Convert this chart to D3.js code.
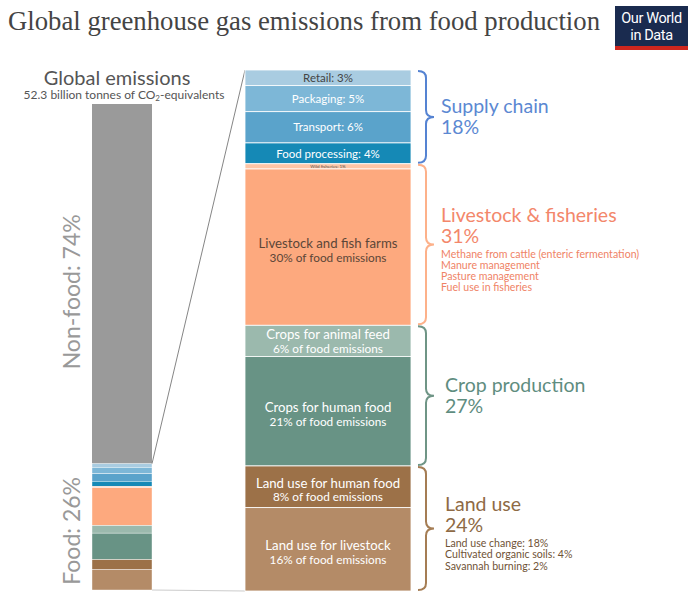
<!DOCTYPE html>
<html><head><meta charset="utf-8">
<script src="https://cdn.jsdelivr.net/npm/d3@7"></script>
<style>html,body{margin:0;padding:0;background:#fff;}svg{display:block;font-family:Lato,"Noto Sans",sans-serif;}</style>
</head><body>
<svg id="c" width="692" height="601"></svg>
<script>
// ---- data ----
const globalParts = ["Non-food", "Food"];
const globalShares = [74, 26];
const segments = ["Retail", "Packaging", "Transport", "Food processing", "Wild fisheries",
  "Livestock and fish farms", "Crops for animal feed", "Crops for human food",
  "Land use for human food", "Land use for livestock"];
const segmentShares = [3, 5, 6, 4, 1, 30, 6, 21, 8, 16];
const segmentColors = ["#a9cce1", "#7db7d7", "#5aa3cb", "#1589b6", "#fdc5a6",
  "#fda97e", "#9bb9ad", "#689385", "#9c7148", "#b48b67"];
const segmentTextColors = ["#444", "#fff", "#fff", "#fff", "#555", "#5b4638", "#fff", "#fff", "#fff", "#fff"];
const groups = ["Supply chain", "Livestock & fisheries", "Crop production", "Land use"];
const groupShares = [18, 31, 27, 24];
const groupSegments = [[0, 3], [4, 5], [6, 7], [8, 9]];
const groupColors = ["#5b88d2", "#f3876b", "#5f8d7f", "#8e6a45"];
const braceColors = ["#5583d2", "#fdb18a", "#6f9586", "#a57d54"];
const groupDetails = [[],
  ["Methane from cattle (enteric fermentation)", "Manure management", "Pasture management", "Fuel use in fisheries"],
  [],
  ["Land use change: 18%", "Cultivated organic soils: 4%", "Savannah burning: 2%"]];
const detailColors = ["#5b88d2", "#ef8366", "#5f8d7f", "#6f5336"];

const svg = d3.select("#c");

// ---- title ----
svg.append("text").attr("x", 8).attr("y", 30)
  .attr("font-family", "'Liberation Serif', 'DejaVu Serif', serif")
  .attr("font-size", 27).attr("fill", "#444")
  .attr("textLength", 592).attr("lengthAdjust", "spacingAndGlyphs")
  .text("Global greenhouse gas emissions from food production");

// logo
const logo = svg.append("g");
logo.append("rect").attr("x", 615).attr("y", 6).attr("width", 73).attr("height", 44).attr("fill", "#1a2b4f");
logo.append("rect").attr("x", 615).attr("y", 46).attr("width", 73).attr("height", 4).attr("fill", "#ce261e");
logo.append("text").attr("x", 651.5).attr("y", 23).attr("text-anchor", "middle").attr("fill", "#fff")
  .attr("font-family", "Roboto, sans-serif").attr("font-size", 14.5).attr("letter-spacing", -0.4).text("Our World");
logo.append("text").attr("x", 651.5).attr("y", 40).attr("text-anchor", "middle").attr("fill", "#fff")
  .attr("font-family", "Roboto, sans-serif").attr("font-size", 14.5).attr("letter-spacing", -0.4).text("in Data");

// ---- scales ----
const yL = d3.scaleLinear().domain([0, 100]).range([104, 590]);
const yR = d3.scaleLinear().domain([0, 100]).range([70, 591]);
const xL = 92, wL = 60, xR = 245, wR = 166;

const cum = [];
segmentShares.reduce((a, v, i) => { cum[i] = a; return a + v; }, 0);

// left header
svg.append("text").attr("x", 117).attr("y", 85).attr("text-anchor", "middle")
  .attr("font-size", 20).attr("fill", "#555").text("Global emissions");
const sub = svg.append("text").attr("x", 124).attr("y", 99).attr("text-anchor", "middle")
  .attr("font-size", 12).attr("fill", "#555");
sub.append("tspan").text("52.3 billion tonnes of CO");
sub.append("tspan").attr("font-size", 8).attr("dy", 2).text("2");
sub.append("tspan").attr("dy", -2).text("-equivalents");

// left bar
svg.append("rect").attr("x", xL).attr("y", yL(0)).attr("width", wL)
  .attr("height", yL(globalShares[0]) - yL(0)).attr("fill", "#9a9a9a");
const foodStart = globalShares[0], foodScale = globalShares[1] / 100;
svg.append("g").selectAll("rect").data(segments).join("rect")
  .attr("x", xL).attr("width", wL)
  .attr("y", (d, i) => yL(foodStart + cum[i] * foodScale))
  .attr("height", (d, i) => yL(foodStart + (cum[i] + segmentShares[i]) * foodScale) - yL(foodStart + cum[i] * foodScale))
  .attr("fill", (d, i) => segmentColors[i])
  .attr("stroke", "#fff").attr("stroke-width", 0.4);

// rotated labels
[0, 1].forEach(i => {
  const y0 = i === 0 ? yL(0) : yL(globalShares[0]);
  const y1 = i === 0 ? yL(globalShares[0]) : yL(100);
  const cy = (y0 + y1) / 2 + (i === 0 ? 8 : 4);
  svg.append("text").attr("transform", `translate(80,${cy}) rotate(-90)`)
    .attr("text-anchor", "middle").attr("font-size", 23).attr("fill", "#999")
    .text(`${globalParts[i]}: ${globalShares[i]}%`);
});

// connectors
svg.append("line").attr("x1", xL + wL).attr("y1", yL(globalShares[0])).attr("x2", xR).attr("y2", yR(0))
  .attr("stroke", "#777").attr("stroke-width", 0.9);
svg.append("line").attr("x1", xL + wL).attr("y1", yL(100)).attr("x2", xR).attr("y2", yR(100))
  .attr("stroke", "#ccc").attr("stroke-width", 1);

// right stack
svg.append("g").selectAll("rect").data(segments).join("rect")
  .attr("x", xR).attr("width", wR)
  .attr("y", (d, i) => yR(cum[i]))
  .attr("height", (d, i) => yR(cum[i] + segmentShares[i]) - yR(cum[i]))
  .attr("fill", (d, i) => segmentColors[i])
  .attr("stroke", "#fff").attr("stroke-width", 0.8);

// segment labels
segments.forEach((name, i) => {
  const mid = (yR(cum[i]) + yR(cum[i] + segmentShares[i])) / 2;
  const cx = xR + wR / 2;
  const col = segmentTextColors[i];
  if (i <= 4) {
    const fs = i === 4 ? 4.5 : 11.5;
    svg.append("text").attr("x", cx).attr("y", mid + fs * 0.36).attr("text-anchor", "middle")
      .attr("font-size", fs).attr("fill", col).text(`${name}: ${segmentShares[i]}%`);
  } else {
    const off = i === 6 ? -2 : 1;
    svg.append("text").attr("x", cx).attr("y", mid + off).attr("text-anchor", "middle")
      .attr("font-size", 13.2).attr("fill", col).text(name);
    svg.append("text").attr("x", cx).attr("y", mid + off + 13.6).attr("text-anchor", "middle")
      .attr("font-size", 11.8).attr("fill", col).text(`${segmentShares[i]}% of food emissions`);
  }
});

// braces & group labels
groups.forEach((g, gi) => {
  const [a, b] = groupSegments[gi];
  const y0 = yR(cum[a]) + 1, y1 = yR(cum[b] + segmentShares[b]) - 1;
  const ym = (y0 + y1) / 2;
  const x0 = 418, x1 = 426, x2 = 434, r = 7;
  const p = d3.path();
  p.moveTo(x0, y0);
  p.quadraticCurveTo(x1, y0, x1, y0 + r);
  p.lineTo(x1, ym - r);
  p.quadraticCurveTo(x1, ym, x2, ym);
  p.quadraticCurveTo(x1, ym, x1, ym + r);
  p.lineTo(x1, y1 - r);
  p.quadraticCurveTo(x1, y1, x0, y1);
  svg.append("path").attr("d", p.toString()).attr("fill", "none")
    .attr("stroke", braceColors[gi]).attr("stroke-width", 2);

  const det = groupDetails[gi];
  const blockH = 40 + 11 * det.length;
  const tx = gi < 2 ? 441 : 445;
  let by = ym - blockH / 2 + 16 + (det.length ? 3 : 0);
  svg.append("text").attr("x", tx).attr("y", by).attr("font-size", 19.5).attr("fill", groupColors[gi]).text(g);
  svg.append("text").attr("x", tx).attr("y", by + 21).attr("font-size", 19.5).attr("fill", groupColors[gi]).text(groupShares[gi] + "%");
  det.forEach((d, k) => {
    svg.append("text").attr("x", tx).attr("y", by + 36 + k * 11.3).attr("font-size", 10.6)
      .attr("fill", detailColors[gi]).text(d);
  });
});
</script>
</body></html>
